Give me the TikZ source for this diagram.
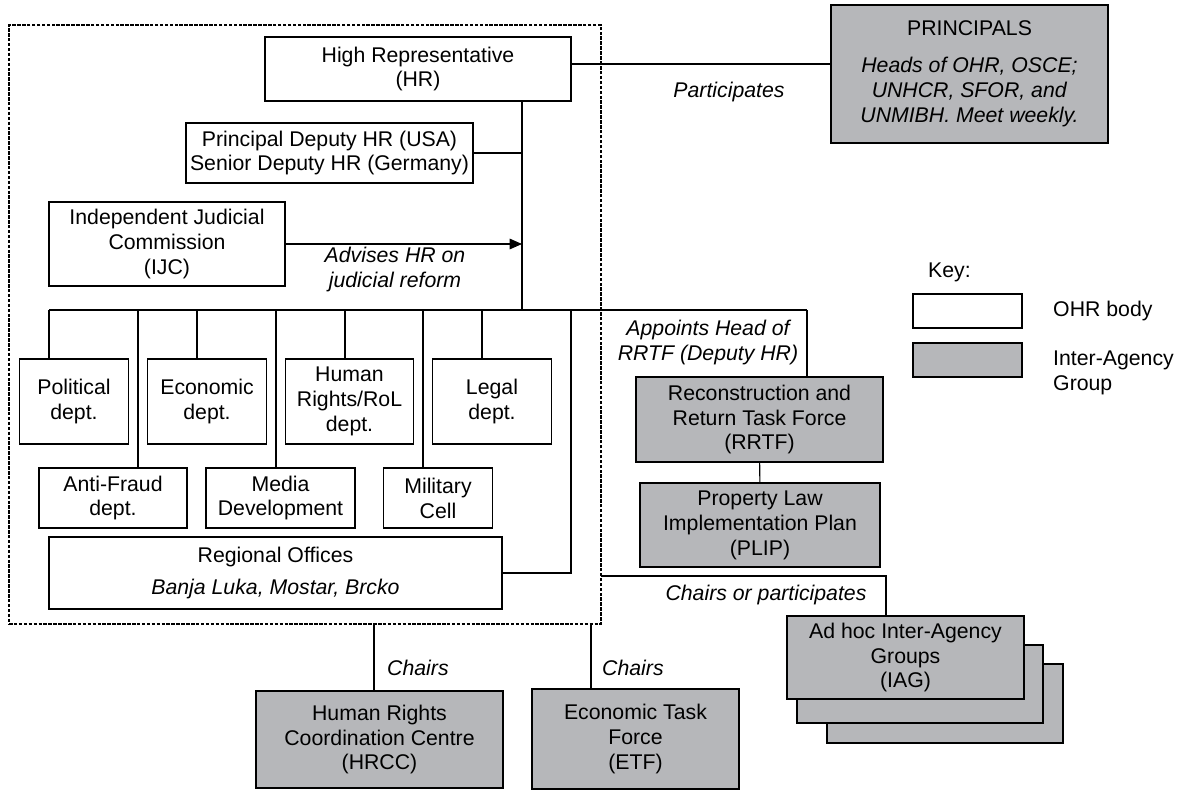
\documentclass[tikz,border=0pt]{standalone}
\usepackage{fontspec}
\setmainfont{Liberation Sans}
\usetikzlibrary{arrows.meta}
\definecolor{iagray}{RGB}{182,183,186}
\begin{document}
\begin{tikzpicture}[
    x=0.2mm, y=-0.2mm,
    font=\fontsize{12.1}{14.2}\selectfont,
    sz/.style 2 args={minimum width=#1*0.2mm, minimum height=#2*0.2mm},
    ohr/.style={rectangle, draw, line width=0.7pt, fill=white, inner sep=0pt, align=center},
    iag/.style={ohr, fill=iagray},
    link/.style={draw, line width=0.6pt},
    adv/.style={link, -{Triangle[length=7pt, width=6pt]}},
    note/.style={font=\fontsize{12.1}{14.2}\selectfont\itshape, align=center},
    office/.style={draw, line width=0.6pt, dash pattern=on 2pt off 0.8pt}
]
  \useasboundingbox (0,0) rectangle (1179,796);
  % OHR frame
  \node[office, sz={592}{599}] (frame) at (305,324.5) {};
  % taps on the lines
  \coordinate (thr) at (571,64);
  \coordinate (bus) at (522,310);
  \coordinate (trr) at (807,310);
  \coordinate (treg) at (571,310);
  \coordinate (cp) at (601,576);
  \coordinate (tiag) at (886,576);
  \coordinate (thrcc) at (374,624);
  \coordinate (tetf) at (591,624);
  % top of the office
  \node[ohr, sz={306}{64}] (hr) at (418,69) {High Representative\\(HR)};
  \node[ohr, sz={287}{60}] (dep) at (329.5,153) {Principal Deputy HR (USA)\\Senior Deputy HR (Germany)};
  \node[ohr, sz={236}{84}] (ijc) at (167,244) {Independent Judicial\\Commission\\(IJC)};
  \node[iag, sz={277}{138}] (pri) at (969.5,74)
    {PRINCIPALS\\[7pt]\textit{Heads of OHR, OSCE;}\\\textit{UNHCR, SFOR, and}\\\textit{UNMIBH. Meet weekly.}};
  \draw[link] (hr.south -| bus) -- (bus);
  \draw[link] (dep.east) -- (dep.east -| bus);
  \draw[adv] (ijc.east) -- (ijc.east -| bus);
  \draw[link] (thr) -- (thr -| pri.west);
  \node[note] at (729,92) {Participates};
  \node[note] at (395,269.5) {Advises HR on\\judicial reform};
  % departments
  \foreach \n/\x/\w/\t in {pol/74/109/{Political\\dept.}, eco/207/119/{Economic\\dept.},
                           hrr/349.5/128/{Human\\Rights/RoL\\dept.}, leg/492/119/{Legal\\dept.}} {
    \node[ohr, sz={\w}{85}] (\n) at (\x,401.5) {\t};
  }
  \foreach \n/\x/\w/\t in {afr/113/148/{Anti-Fraud\\dept.}, med/280.5/149/{Media\\Development},
                           mil/438/109/{Military\\Cell}} {
    \node[ohr, sz={\w}{60}] (\n) at (\x,498) {\t};
  }
  \node[ohr, sz={453}{72}] (reg) at (275.5,573)
    {Regional Offices\\[4pt]\textit{Banja Luka, Mostar, Brcko}};
  \foreach \n/\x in {pol/49, afr/138, eco/197, med/276, hrr/345, mil/423, leg/482} {
    \coordinate (t\n) at (\x,310);
    \draw[link] (t\n) -- (t\n |- \n.north);
  }
  \draw[link] (tpol) -- (trr);
  \draw[link] (reg.east) -| (treg);
  % task forces
  \node[iag, sz={247}{85}] (rrtf) at (759.5,419.5) {Reconstruction and\\Return Task Force\\(RRTF)};
  \node[iag, sz={240}{84}] (plip) at (760,525) {Property Law\\Implementation Plan\\(PLIP)};
  \draw[link] (trr) -- (trr |- rrtf.north);
  \draw[link] (rrtf) -- (plip);
  \node[note] at (708,342.5) {Appoints Head of\\RRTF (Deputy HR)};
  % ad hoc groups
  \node[iag, sz={236}{79}] (iag3) at (945,703.5) {};
  \node[iag, sz={246}{78}] (iag2) at (920,684) {};
  \node[iag, sz={237}{83}] (iag1) at (905.5,657.5) {Ad hoc Inter-Agency\\Groups\\(IAG)};
  \draw[link] (cp) -- (tiag) -- (tiag |- iag1.north);
  \node[note] at (766,595) {Chairs or participates};
  % chaired bodies
  \node[iag, sz={247}{97}] (hrcc) at (379.5,739.5) {Human Rights\\Coordination Centre\\(HRCC)};
  \node[iag, sz={207}{100}] (etf) at (635.5,739) {Economic Task\\Force\\(ETF)};
  \draw[link] (thrcc) -- (thrcc |- hrcc.north);
  \draw[link] (tetf) -- (tetf |- etf.north);
  \node[note, anchor=west] at (381,668) {Chairs};
  \node[note, anchor=west] at (596,668) {Chairs};
  % key
  \node[anchor=west] (key) at (922,272) {Key:};
  \node[ohr, sz={109}{34}] (kohr) at (967.5,311) {};
  \node[iag, sz={109}{34}] (kiag) at (967.5,360) {};
  \node[anchor=west] at (1047,311) {OHR body};
  \node[anchor=west, align=left] at (1047,372.5) {Inter-Agency\\Group};
\end{tikzpicture}
\end{document}
